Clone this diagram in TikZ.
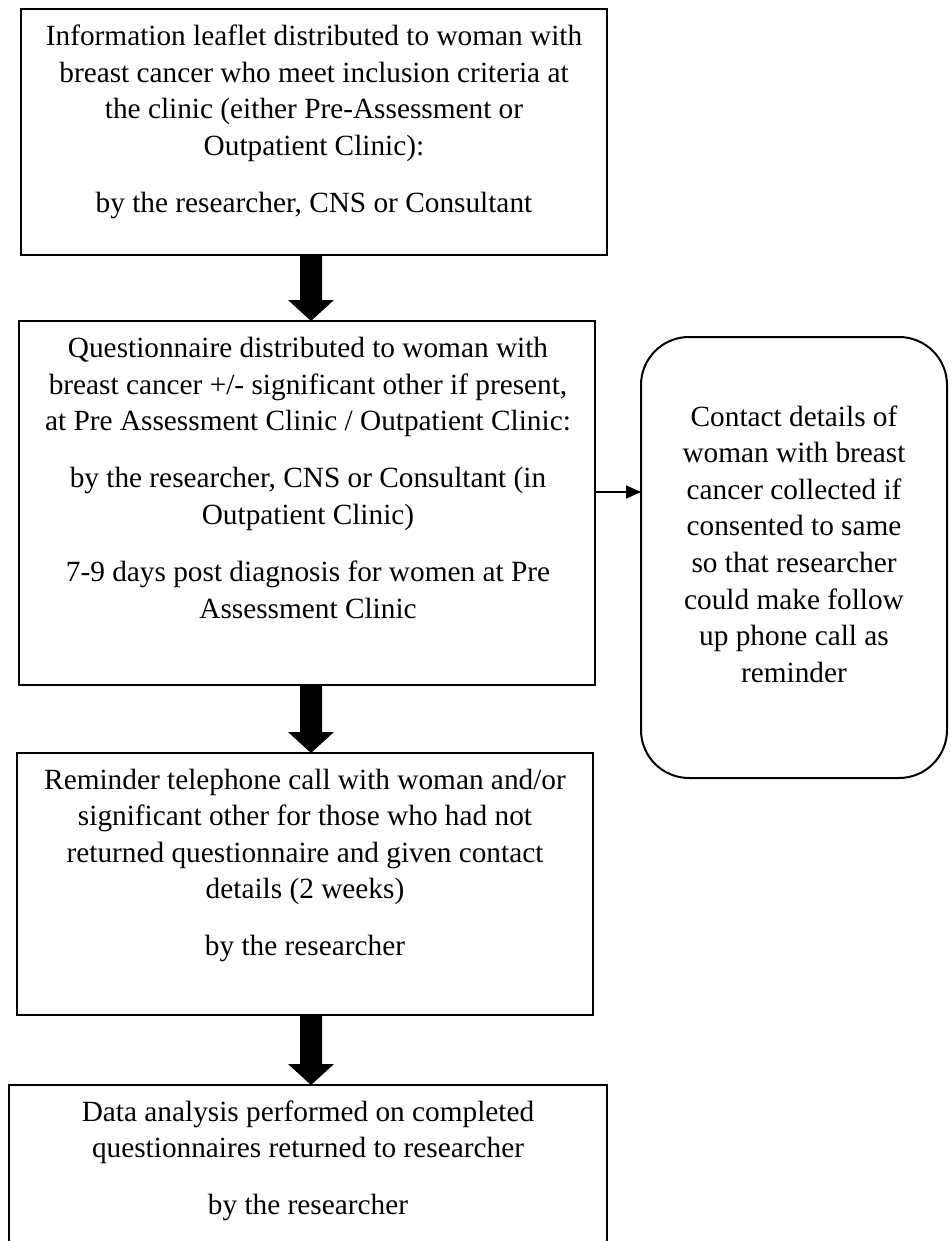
\documentclass[tikz,border=0pt]{standalone}
\usepackage{fontspec}
\setmainfont{Liberation Serif}
\usetikzlibrary{calc,arrows.meta}

% block arrow between two stacked boxes, centred on the coordinate (ax)
\newcommand\blockarrow[2]{%
  \fill ($(#1.south -| ax)+(-11,0)$) -- ($(#2.north -| ax)+(-11,-21)$)
    -- ++(-12,0) -- (#2.north -| ax) -- ($(#2.north -| ax)+(23,-21)$)
    -- ++(-12,0) -- ($(#1.south -| ax)+(11,0)$) -- cycle;}

\begin{document}
\begin{tikzpicture}[x=1pt,y=-1pt,
  box/.style={draw, line width=1.4pt, inner sep=0pt, outer sep=0pt},
  roundbox/.style={draw, line width=2pt, rounded corners=48pt, inner sep=0pt, outer sep=0pt},
  % multi-line texts are placed by the baseline of their last line
  txt/.style={font=\fontsize{29.3}{36.6}\selectfont, align=center, inner sep=0pt, anchor=base},
  link/.style={line width=1.5pt, -{Triangle[width=13pt,length=15pt]}}]

\useasboundingbox (0,0) rectangle (952,1241);
\fill[white] (0,0) rectangle (952,1241);
\clip (0,0) rectangle (952,1241);

% boxes
\node[box, minimum width=586pt, minimum height=246pt] (b1) at (314,132) {};
\node[box, minimum width=576pt, minimum height=364pt] (b2) at (307,503) {};
\node[box, minimum width=576pt, minimum height=262pt] (b3) at (305,884) {};
\node[box, minimum width=598pt, minimum height=175pt] (b4) at (308,1172.5) {};
\node[roundbox, minimum width=306pt, minimum height=441pt] (rb) at (794,557.5) {};

% texts
\node[txt] (t1) at (314,212.5) {Information leaflet distributed to woman with\\
  breast cancer who meet inclusion criteria at\\
  the clinic (either Pre-Assessment or\\
  Outpatient Clinic):\\[20.4pt]
  by the researcher, CNS or Consultant};
\node[txt] (t2) at (308,618) {Questionnaire distributed to woman with\\
  breast cancer +/- significant other if present,\\
  at Pre Assessment Clinic / Outpatient Clinic:\\[20.4pt]
  by the researcher, CNS or Consultant (in\\
  Outpatient Clinic)\\[20.4pt]
  7-9 days post diagnosis for women at Pre\\
  Assessment Clinic};
\node[txt] (t3) at (305,955.8) {Reminder telephone call with woman and/or\\
  significant other for those who had not\\
  returned questionnaire and given contact\\
  details (2 weeks)\\[20.4pt]
  by the researcher};
\node[txt] (t4) at (308,1214.6) {Data analysis performed on completed\\
  questionnaires returned to researcher\\[20.4pt]
  by the researcher};
\node[txt] (t5) at (794,682.2) {Contact details of\\
  woman with breast\\
  cancer collected if\\
  consented to same\\
  so that researcher\\
  could make follow\\
  up phone call as\\
  reminder};

% connectors
\coordinate (ax) at (311,0);
\coordinate (ay) at (0,492);
\blockarrow{b1}{b2}
\blockarrow{b2}{b3}
\blockarrow{b3}{b4}
\draw[link] (b2.east |- ay) -- (rb.west |- ay);

\end{tikzpicture}
\end{document}
